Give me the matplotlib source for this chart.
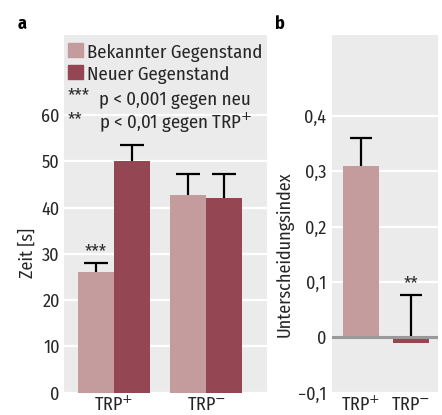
import matplotlib
matplotlib.use("Agg")
import matplotlib.pyplot as plt
import matplotlib.font_manager as fm
from matplotlib.patches import Rectangle
import numpy as np

# ---- data ----
categories = ['TRP$^{+}$', 'TRP$^{-}$']
series_names = ['Bekannter Gegenstand', 'Neuer Gegenstand']
bekannt = [26.1, 42.7]
bekannt_err = [2.0, 4.6]
neu = [50.1, 42.0]
neu_err = [3.4, 5.3]
index_vals = [0.31, -0.01]
index_err = [0.05, 0.087]
yticks_a = [0, 10, 20, 30, 40, 50, 60]
yticks_b = [-0.1, 0, 0.1, 0.2, 0.3, 0.4]
yticklabels_b = ['\u22120,1', '0', '0,1', '0,2', '0,3', '0,4']
sig_lines = [('***', 'p < 0,001 gegen neu'), ('**', 'p < 0,01 gegen TRP$^{+}$')]

available = {f.name for f in fm.fontManager.ttflist}
pref = ['Fira Sans Condensed', 'PT Sans Narrow', 'Roboto Condensed', 'Archivo Narrow',
        'Liberation Sans Narrow', 'Liberation Sans']
MAIN = next((p for p in pref if p in available), 'DejaVu Sans')
FONT = [MAIN, 'DejaVu Sans']
plt.rcParams['font.family'] = FONT
plt.rcParams['mathtext.fontset'] = 'dejavusans'

LIGHT = '#c49c9e'
DARK = '#944653'
BG = '#ebebeb'
TXT = '#262626'
FS = 13

W, H = 442, 415
fig = plt.figure(figsize=(W / 100, H / 100), dpi=100)

def fx(px):
    return px / W

def fy(py):
    return 1 - py / H

def upper_err(axis, xs, vals, errs, capw):
    xs = np.asarray(xs, float)
    tops = np.asarray(vals) + np.asarray(errs)
    base = np.maximum(np.asarray(vals), 0)
    axis.vlines(xs, base, tops, color='black', lw=1.6, zorder=1.5)
    axis.hlines(tops, xs - capw / 2, xs + capw / 2, color='black', lw=1.6, zorder=1.5)

# ---- panel a ----
a_left, a_right, a_top, a_bot = 64, 266.7, 35, 392.7
ax = fig.add_axes([fx(a_left), fy(a_bot), fx(a_right - a_left), (a_bot - a_top) / H])
ax.set_facecolor(BG)
px_per_unit = (a_bot - 115) / 60.0
ax.set_ylim(0, (a_bot - a_top) / px_per_unit)
x = np.arange(len(categories))
w = 0.39
ax.set_xlim(-0.541, 1.653)
ax.set_yticks(yticks_a)
ax.set_yticklabels([str(v) for v in yticks_a])
for v in yticks_a:
    ax.axhline(v, color='white', lw=1.6, zorder=1)
ax.bar(x - w / 2, bekannt, w, color=LIGHT, zorder=2)
ax.bar(x + w / 2, neu, w, color=DARK, zorder=2)
upper_err(ax, x - w / 2, bekannt, bekannt_err, 0.26)
upper_err(ax, x + w / 2, neu, neu_err, 0.26)
ax.text(x[0] - w / 2, bekannt[0] + bekannt_err[0] + 0.4, '***', ha='center', va='bottom',
        fontsize=FS, color=TXT)
ax.set_xticks(x)
ax.set_xticklabels(categories)
ax.tick_params(length=0, labelsize=FS, colors=TXT, pad=3)
ax.tick_params(axis='x', pad=2)
for s in ax.spines.values():
    s.set_visible(False)
ax.set_ylabel('Zeit [s]', fontsize=FS, color=TXT, va='center')
ax.yaxis.set_label_coords((28 - a_left) / (a_right - a_left), (a_bot - 253) / (a_bot - a_top))

# legend (manual)
sw_x0, sw_w = 68, 15
for (name, col, y0) in [(series_names[0], LIGHT, 43), (series_names[1], DARK, 65)]:
    fig.add_artist(Rectangle((fx(sw_x0), fy(y0 + 14.5)), fx(sw_w), 14.5 / H,
                             transform=fig.transFigure, color=col, zorder=5))
    fig.text(fx(87), fy(y0 + 14.5), name, ha='left', va='baseline', fontsize=FS + 0.5, color=TXT)
for (stars, txt), yb in zip(sig_lines, [105, 129]):
    fig.text(fx(68), fy(yb - 4), stars, ha='left', va='baseline', fontsize=FS, color=TXT)
    fig.text(fx(99), fy(yb), txt, ha='left', va='baseline', fontsize=FS + 0.5, color=TXT)

# ---- panel b ----
b_left, b_right = 331.7, 438.3
bx = fig.add_axes([fx(b_left), fy(a_bot), fx(b_right - b_left), (a_bot - a_top) / H])
bx.set_facecolor(BG)
px_per_b = (a_bot - 337.3) / 0.1
bx.set_ylim(-0.1, -0.1 + (a_bot - a_top) / px_per_b)
wb = 0.726
bx.set_xlim(-0.582, 1.55)
bx.set_yticks(yticks_b)
bx.set_yticklabels(yticklabels_b)
for v in yticks_b:
    if v != 0:
        bx.axhline(v, color='white', lw=1.6, zorder=1)
bx.bar(x, index_vals, wb, color=[LIGHT, DARK], zorder=2)
upper_err(bx, x, index_vals, index_err, 0.44)
bx.axhline(0, color='#999999', lw=2.2, zorder=3)
bx.text(x[1], index_vals[1] + index_err[1] + 0.003, '**', ha='center', va='bottom',
        fontsize=FS, color=TXT)
bx.set_xticks(x)
bx.set_xticklabels(categories)
bx.tick_params(length=0, labelsize=FS, colors=TXT, pad=4)
bx.tick_params(axis='x', pad=2)
for s in bx.spines.values():
    s.set_visible(False)
bx.set_ylabel('Unterscheidungsindex', fontsize=FS, color=TXT, va='center')
bx.yaxis.set_label_coords((285 - b_left) / (b_right - b_left), (a_bot - 254) / (a_bot - a_top))

# panel letters
fig.text(fx(22), fy(24), 'a', fontsize=13, fontweight='bold', ha='center', va='center')
fig.text(fx(280), fy(24), 'b', fontsize=13, fontweight='bold', ha='center', va='center')

fig.savefig('out.png', dpi=100)
